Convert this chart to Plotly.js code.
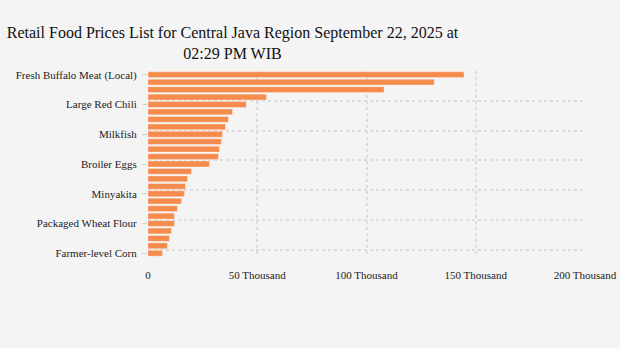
<!DOCTYPE html>
<html>
<head>
<meta charset="utf-8">
<script src="https://cdn.plot.ly/plotly-3.0.1.min.js"></script>
<style>html,body{margin:0;padding:0;background:#f4f4f4;}#chart{width:620px;height:348px;}</style>
</head>
<body>
<div id="chart"></div>
<script>
// Categories listed top to bottom (sorted by price, descending)
const commodities = [
  "Fresh Buffalo Meat (Local)", "Pure Beef", "Frozen Buffalo Meat", "Red Cayenne Pepper",
  "Large Red Chili", "Shallots", "Broiler Chicken Meat", "Garlic Bulbs",
  "Milkfish", "Mackerel", "Curly Red Chili", "Skipjack Tuna",
  "Broiler Eggs", "Packaged Cooking Oil", "Consumption Sugar", "Bulk Cooking Oil",
  "Minyakita", "Premium Rice", "Medium Rice", "SPHP Rice",
  "Packaged Wheat Flour", "Consumption Salt", "Bulk Wheat Flour", "Imported Soybeans",
  "Farmer-level Corn"
];
const prices = [
  144600, 131000, 108000, 54200,
  45000, 38650, 36800, 35450,
  34070, 33600, 32700, 32240,
  28120, 19880, 18050, 17130,
  16670, 15300, 13470, 12090,
  12090, 10720, 9800, 8890,
  6600
];
const xTickVals = [0, 50000, 100000, 150000, 200000];
const xTickText = ["0", "50 Thousand", "100 Thousand", "150 Thousand", "200 Thousand"];
const titleText = "Retail Food Prices List for Central Java Region September 22, 2025 at<br>02:29 PM WIB";

const serif = "Liberation Serif";
const barColor = "#f58c4e";

const traces = [
  {
    type: "bar", orientation: "h", x: prices, y: commodities,
    marker: {color: barColor, line: {color: "rgba(255,255,255,0.6)", width: 0.5}},
    xaxis: "x", yaxis: "y", hoverinfo: "x+y"
  },
  {
    type: "bar", orientation: "h", x: prices, y: commodities,
    marker: {color: "rgba(0,0,0,0)"}, xaxis: "x", yaxis: "y2",
    hoverinfo: "skip", showlegend: false
  }
];

const layout = {
  width: 620, height: 348,
  paper_bgcolor: "#f4f4f4", plot_bgcolor: "#f4f4f4",
  margin: {l: 148, r: 35, t: 71, b: 91},
  bargap: 0.22,
  showlegend: false,
  title: {
    text: titleText, x: 0.375, xanchor: "center", y: 0.89, yanchor: "top",
    font: {family: serif, size: 16, color: "#111"}
  },
  font: {family: serif, size: 11, color: "#222"},
  xaxis: {
    range: [0, 200000], tickvals: xTickVals, ticktext: xTickText,
    showgrid: true, gridcolor: "#dcdcdc", griddash: "dot", gridwidth: 2,
    zeroline: false, ticks: "outside", ticklen: 8, tickcolor: "rgba(0,0,0,0)",
    tickfont: {family: serif, size: 11, color: "#222"}
  },
  yaxis: {
    type: "category", autorange: "reversed", dtick: 4, tick0: 0,
    showgrid: false, zeroline: false, ticks: "outside", ticklen: 5,
    tickcolor: "#d0d0d0", tickwidth: 1, ticklabelstandoff: 3,
    tickfont: {family: serif, size: 11, color: "#222"}
  },
  yaxis2: {
    type: "category", autorange: "reversed", overlaying: "y", side: "left",
    dtick: 4, tick0: 0, tickson: "boundaries", showticklabels: false, ticks: "",
    showgrid: true, gridcolor: "#dcdcdc", griddash: "dot", gridwidth: 2,
    zeroline: false
  }
};

Plotly.newPlot("chart", traces, layout, {displayModeBar: false, staticPlot: true});
</script>
</body>
</html>
